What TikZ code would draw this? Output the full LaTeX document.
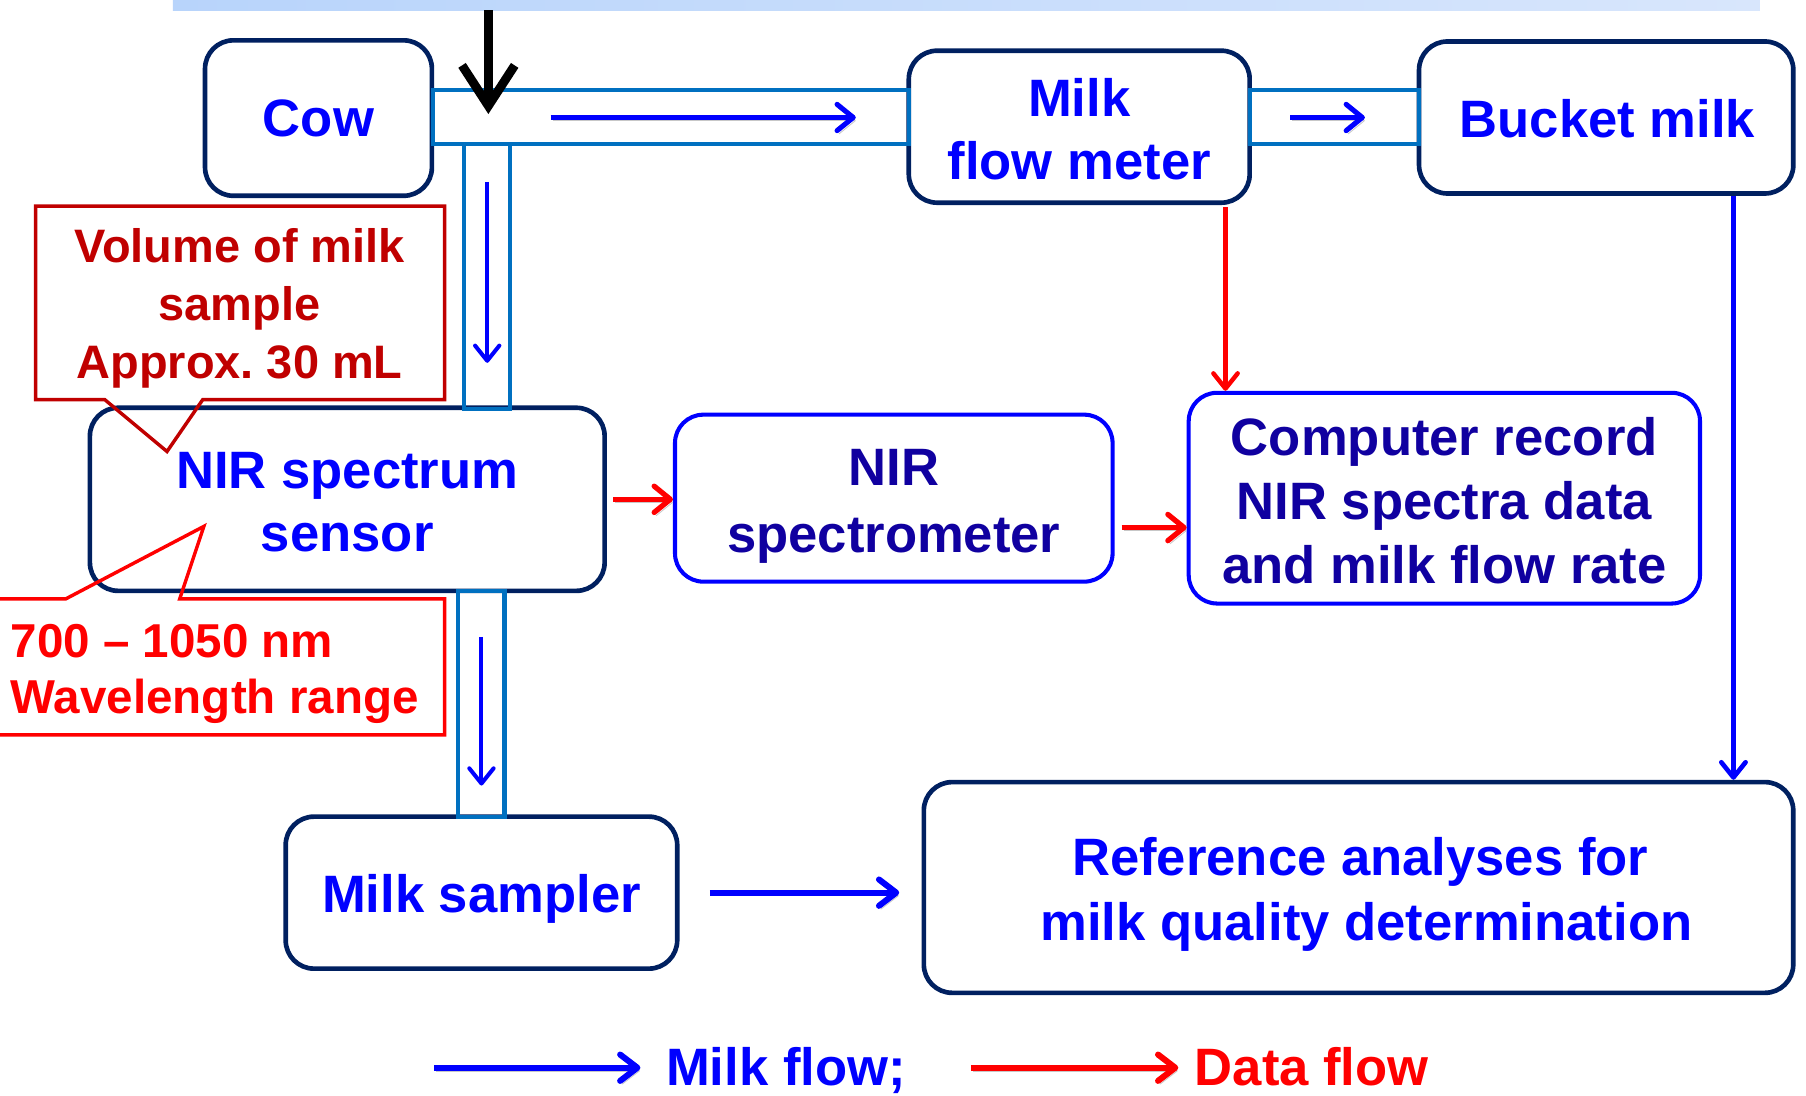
\documentclass[tikz,border=0pt]{standalone}
\usepackage{fontspec}
\setmainfont{Liberation Sans}
\usetikzlibrary{arrows.meta}
\definecolor{navy}{HTML}{002060}
\definecolor{pureblue}{HTML}{0000FF}
\definecolor{pipeblue}{HTML}{0070C0}
\definecolor{darkred}{HTML}{C00000}
\definecolor{purered}{HTML}{FF0000}
\definecolor{inkblue}{HTML}{1000A0}
\definecolor{barL}{HTML}{B8D4FB}
\definecolor{barR}{HTML}{D8E6FC}
\frenchspacing
\newcommand\bigtxt{\fontsize{26}{31.3}\selectfont\bfseries}
\newcommand\calltxt{\fontsize{23.2}{28.7}\selectfont\bfseries}
\newcommand\calltxtb{\fontsize{23.5}{27.9}\selectfont\bfseries}
\tikzset{
  box/.style={draw=navy, line width=2.3pt, rounded corners=14pt, fill=white, inner sep=0pt},
  bluebox/.style={box, draw=pureblue, line width=2pt},
  txt/.style={align=center, inner sep=0pt, text=pureblue, font=\bigtxt},
  inktxt/.style={txt, text=inkblue},
  pipe/.style={draw=pipeblue, line width=2pt},
  shadowed/.style={preaction={draw=black!22, transform canvas={shift={(1pt,-1.6pt)}}}},
  milk/.style={draw=pureblue, line width=2.5pt, -{Straight Barb[length=8pt,width=13pt,round]}, shadowed},
  milkthin/.style={draw=pureblue, line width=2pt, -{Straight Barb[length=7.5pt,width=12pt,round]}},
  milkline/.style={draw=pureblue, line width=2.3pt, -{Straight Barb[length=7.5pt,width=12pt,round]}},
  milkthick/.style={draw=pureblue, line width=3pt, -{Straight Barb[length=8.5pt,width=13pt,round]}, shadowed},
  data/.style={draw=purered, line width=2.6pt, -{Straight Barb[length=8pt,width=13pt,round]}, shadowed},
  dataline/.style={draw=purered, line width=2.2pt, -{Straight Barb[length=7.5pt,width=12pt,round]}},
  datathick/.style={draw=purered, line width=3pt, -{Straight Barb[length=8.5pt,width=13pt,round]}, shadowed},
  callout/.style={line width=1.7pt, line join=miter},
}
\begin{document}
\begin{tikzpicture}[x=0.02cm,y=-0.02cm]
\useasboundingbox (0,0) rectangle (1568,951);
\clip (0,0) rectangle (1568,951);
\fill[white] (0,0) rectangle (1568,951);
% top bar
\shade[left color=barL, right color=barR] (150,0) rectangle (1528,8.7);

% boxes
\node[box, minimum width=3.94cm, minimum height=2.70cm] (cow) at (276.5,102.5) {};
\node[box, minimum width=5.92cm, minimum height=2.64cm] (flow) at (937,110) {};
\node[box, minimum width=6.50cm, minimum height=2.64cm] (bucket) at (1394.5,102) {};
\node[box, minimum width=8.94cm, minimum height=3.18cm] (sensor) at (301.5,433.5) {};
\node[bluebox, minimum width=7.60cm, minimum height=2.90cm] (spec) at (776,432.5) {};
\node[bluebox, minimum width=8.88cm, minimum height=3.66cm] (comp) at (1254,432.5) {};
\node[box, minimum width=6.80cm, minimum height=2.64cm] (sampler) at (418,775) {};
\node[box, minimum width=15.10cm, minimum height=3.66cm] (ref) at (1179.5,770.5) {};

% box texts
\node[txt] (cowt) at (276.5,102.5) {Cow};
\node[txt] (flowt) at (937,112) {Milk\\flow meter};
\node[txt] (buckett) at (1395.5,103) {Bucket milk};
\node[txt] (sensort) at (301.5,436) {NIR spectrum\\sensor};
\node[inktxt, font=\fontsize{26}{33}\selectfont\bfseries] (spect) at (776,439.5) {NIR\\spectrometer};
\node[inktxt, font=\fontsize{26}{31.6}\selectfont\bfseries] (compt) at (1254,434.5) {Computer record\\NIR spectra data\\and milk flow rate};
\node[txt] (samplert) at (418,780) {Milk sampler};
\node[txt, font=\fontsize{26}{32.4}\selectfont\bfseries] (reft) at (1181,776.5) {Reference analyses for\\\hspace*{6pt}milk quality determination};

% pipes
\draw[pipe] (376,78) rectangle (789,125);
\draw[pipe] (403,125) rectangle (443,355);
\draw[pipe] (1085,78) rectangle (1232,125);
\draw[pipe] (398,513) rectangle (438,709);

% arrows inside pipes
\coordinate (p1s) at (478,102); \coordinate (p1e) at (743,102);
\coordinate (p2s) at (423,158); \coordinate (p2e) at (423,315);
\coordinate (p3s) at (1120,102); \coordinate (p3e) at (1185,102);
\coordinate (p4s) at (418,553); \coordinate (p4e) at (418,682);
\draw[milk] (p1s) -- (p1e);
\draw[milkthin] (p2s) -- (p2e);
\draw[milk] (p3s) -- (p3e);
\draw[milkthin] (p4s) -- (p4e);

% black inlet arrow
\coordinate (in0) at (424,9); \coordinate (in1) at (424,99);
\draw[black, line width=4.4pt, -{Straight Barb[length=20pt,width=26pt]}] (in0) -- (in1);

% connectors
\coordinate (rx) at (1064,0);
\coordinate (bx) at (1505,0);
\coordinate (ry) at (0,458);
\draw[dataline, shorten <=1pt] (flow.south -| rx) -- (comp.north -| rx);
\draw[milkline] (bucket.south -| bx) -- (ref.north -| bx);
\draw[data, shorten <=3pt] (sensor.east) -- (spec.west |- sensor.east);
\draw[data, shorten <=3.5pt] (spec.east |- ry) -- (comp.west |- ry);
\draw[milkthick, shorten <=15pt, shorten >=11pt] (sampler.east) -- (ref.west |- sampler.east);

% callouts
\draw[callout, draw=darkred] (31,179) -- (386,179) -- (386,347) -- (176,347) -- (145,392) -- (91,347) -- (31,347) -- cycle;
\node[text=darkred, font=\calltxt, align=center, inner sep=0pt] (vol) at (208,268) {Volume of milk\\sample\\Approx.\ 30 mL};
\draw[callout, draw=purered] (-10,520) -- (57,520) -- (177,457) -- (156,520) -- (386,520) -- (386,638) -- (-10,638);
\node[text=purered, font=\calltxtb, align=left, anchor=west, inner sep=0pt] (wl) at (9,585) {700 – 1050 nm\\Wavelength range};

% legend
\coordinate (l1a) at (377,927); \coordinate (l1b) at (556,927);
\coordinate (l2a) at (843,927); \coordinate (l2b) at (1023,927);
\draw[milkthick] (l1a) -- (l1b);
\node[anchor=base west, inner sep=0pt, text=pureblue, font=\bigtxt] (lt1) at (578,942) {Milk flow;};
\draw[datathick] (l2a) -- (l2b);
\node[anchor=base west, inner sep=0pt, text=purered, font=\bigtxt] (lt2) at (1037,942) {Data flow};
\end{tikzpicture}
\end{document}
